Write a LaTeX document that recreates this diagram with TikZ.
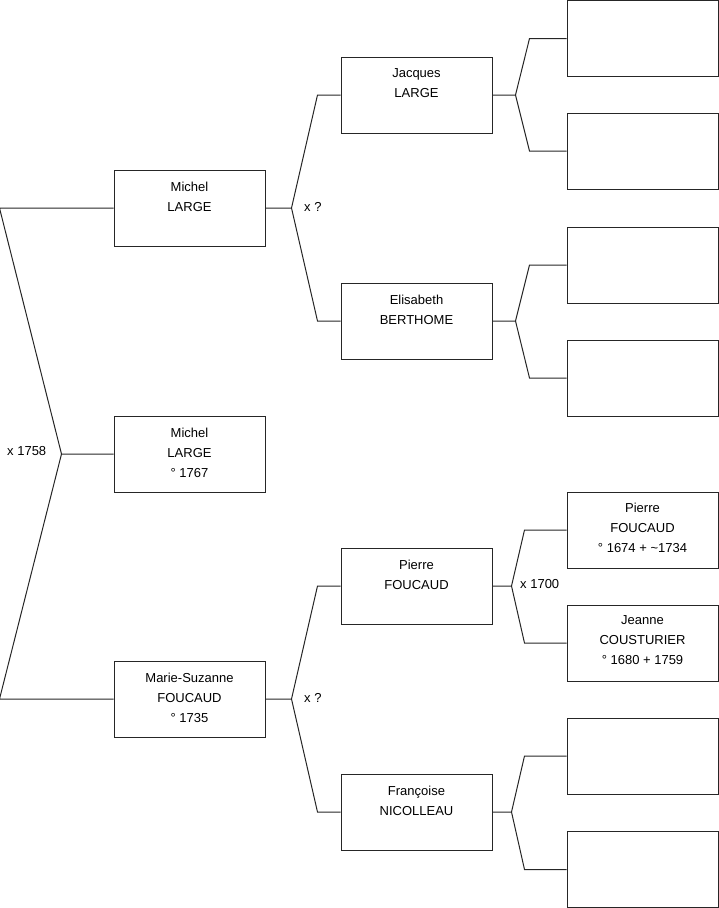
\documentclass[tikz,border=0pt]{standalone}
\usepackage{fontspec}
\setmainfont{Liberation Sans}
\usetikzlibrary{positioning}
\begin{document}
\begin{tikzpicture}[x=1pt, y=-1pt,
  person/.style={draw=black!85, line width=1pt, minimum width=151pt, minimum height=76pt, inner sep=0pt},
  names/.style={align=center, inner sep=0pt, anchor=north, font=\fontsize{13}{20}\selectfont},
  wed/.style={anchor=west, inner sep=0pt, font=\fontsize{13}{20}\selectfont},
  link/.style={draw=black!85, line width=1pt}]
\useasboundingbox (0,0) rectangle (719,908);
% generation 1
\node[person] (ml) at (189.5,208) {};
\node[person] (kid) at (189.5,454) {};
\node[person] (msf) at (189.5,699) {};
\node[names, below=12pt of ml.north] (mlt) {Michel\\LARGE};
\node[names, below=12pt of kid.north] (kidt) {Michel\\LARGE\\° 1767};
\node[names, below=12pt of msf.north] (msft) {Marie-Suzanne\\FOUCAUD\\° 1735};
% generation 2
\node[person] (jl) at (416.5,95) {};
\node[person] (eb) at (416.5,321) {};
\node[person] (pf) at (416.5,586) {};
\node[person] (fn) at (416.5,812) {};
\node[names, below=12pt of jl.north] (jlt) {Jacques\\LARGE};
\node[names, below=12pt of eb.north] (ebt) {Elisabeth\\BERTHOME};
\node[names, below=12pt of pf.north] (pft) {Pierre\\FOUCAUD};
\node[names, below=12pt of fn.north] (fnt) {Françoise\\NICOLLEAU};
% generation 3
\node[person] (jl1) at (642.5,38.5) {};
\node[person] (jl2) at (642.5,151) {};
\node[person] (eb1) at (642.5,265) {};
\node[person] (eb2) at (642.5,378) {};
\node[person] (pfp) at (642.5,530) {};
\node[person] (jcm) at (642.5,643) {};
\node[person] (fn1) at (642.5,756) {};
\node[person] (fn2) at (642.5,869.5) {};
\node[names, below=11pt of pfp.north] (pfpt) {Pierre\\FOUCAUD\\° 1674 + \textasciitilde1734};
\node[names, below=11pt of jcm.north] (jcmt) {Jeanne\\COUSTURIER\\° 1680 + 1759};
% forks
\coordinate (k0) at ([xshift=-52pt]kid.west);
\draw[link] (kid.west) -- (k0) -- ([xshift=-114pt]ml.west) -- (ml.west);
\draw[link] (k0) -- ([xshift=-114pt]msf.west) -- (msf.west);
\node[wed] (w1) at (7,451) {x 1758};
\draw[link] (ml.east) -- ++(26,0) coordinate (k1) -- ([xshift=-23pt]jl.west) -- (jl.west);
\draw[link] (k1) -- ([xshift=-23pt]eb.west) -- (eb.west);
\node[wed] (w2) at (304,207) {x ?};
\draw[link] (msf.east) -- ++(26,0) coordinate (k2) -- ([xshift=-23pt]pf.west) -- (pf.west);
\draw[link] (k2) -- ([xshift=-23pt]fn.west) -- (fn.west);
\node[wed] (w3) at (304,698) {x ?};
\draw[link] (jl.east) -- ++(23,0) coordinate (k3) -- ([xshift=-37pt]jl1.west) -- (jl1.west);
\draw[link] (k3) -- ([xshift=-37pt]jl2.west) -- (jl2.west);
\draw[link] (eb.east) -- ++(23,0) coordinate (k4) -- ([xshift=-37pt]eb1.west) -- (eb1.west);
\draw[link] (k4) -- ([xshift=-37pt]eb2.west) -- (eb2.west);
\draw[link] (pf.east) -- ++(19,0) coordinate (k5) -- ([xshift=-42pt]pfp.west) -- (pfp.west);
\draw[link] (k5) -- ([xshift=-42pt]jcm.west) -- (jcm.west);
\node[wed] (w4) at (520,584) {x 1700};
\draw[link] (fn.east) -- ++(19,0) coordinate (k6) -- ([xshift=-42pt]fn1.west) -- (fn1.west);
\draw[link] (k6) -- ([xshift=-42pt]fn2.west) -- (fn2.west);
\end{tikzpicture}
\end{document}
